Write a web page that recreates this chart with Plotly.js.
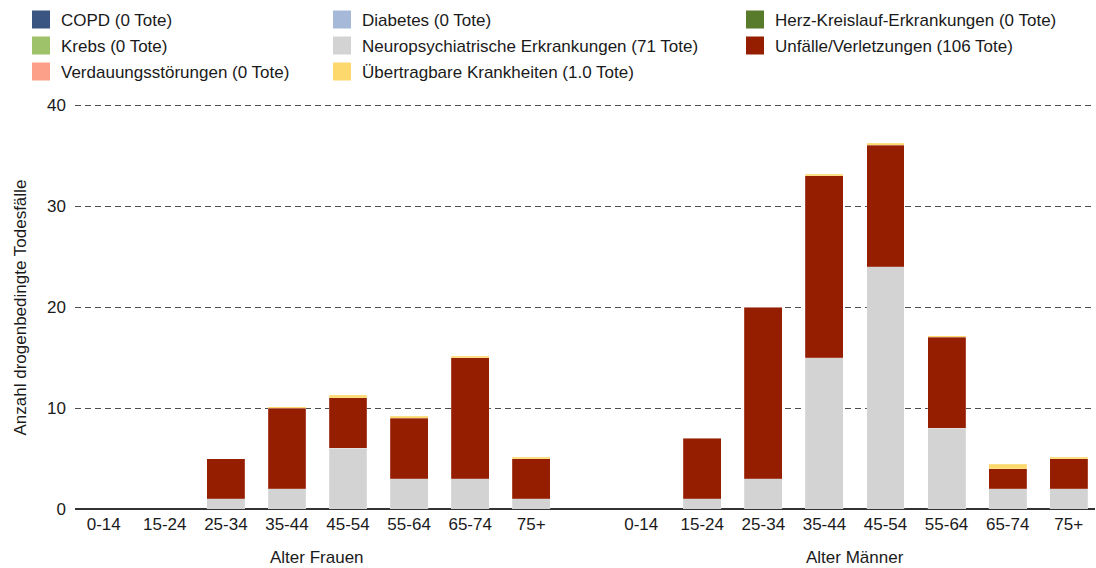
<!DOCTYPE html>
<html>
<head>
<meta charset="utf-8">
<script src="https://cdn.plot.ly/plotly-3.0.1.min.js"></script>
<style>html,body{margin:0;padding:0;background:#fff}#chart{width:1096px;height:568px}</style>
</head>
<body>
<div id="chart"></div>
<script>
// ---- data ----
const ageGroups = ["0-14","15-24","25-34","35-44","45-54","55-64","65-74","75+"];
const groupLabels = ["Alter Frauen","Alter Männer"];
const yTitle = "Anzahl drogenbedingte Todesfälle";
const yTicks = [0,10,20,30,40];

const copdF      = [0,0,0,0,0,0,0,0];
const copdM      = [0,0,0,0,0,0,0,0];
const diabetesF  = [0,0,0,0,0,0,0,0];
const diabetesM  = [0,0,0,0,0,0,0,0];
const herzF      = [0,0,0,0,0,0,0,0];
const herzM      = [0,0,0,0,0,0,0,0];
const krebsF     = [0,0,0,0,0,0,0,0];
const krebsM     = [0,0,0,0,0,0,0,0];
const verdauF    = [0,0,0,0,0,0,0,0];
const verdauM    = [0,0,0,0,0,0,0,0];
const neuroF     = [0,0,1,2,6,3,3,1];
const neuroM     = [0,1,3,15,24,8,2,2];
const unfallF    = [0,0,4,8,5,6,12,4];
const unfallM    = [0,6,17,18,12,9,2,3];
const uebertrF   = [0,0,0,0.12,0.25,0.2,0.13,0.13];
const uebertrM   = [0,0,0,0.15,0.2,0.15,0.45,0.13];

const seriesNames = [
  "COPD (0 Tote)",
  "Diabetes (0 Tote)",
  "Herz-Kreislauf-Erkrankungen (0 Tote)",
  "Krebs (0 Tote)",
  "Neuropsychiatrische Erkrankungen (71 Tote)",
  "Unfälle/Verletzungen (106 Tote)",
  "Verdauungsstörungen (0 Tote)",
  "Übertragbare Krankheiten (1.0 Tote)"
];
const seriesColors = ["#3a5582","#a6b9d8","#587a2b","#9ec26a","#d3d3d3","#961e00","#fda08a","#fdd86c"];

// ---- layout helpers ----
const menOffset = 8.8;
const xF = ageGroups.map((a,i)=>i);
const xM = ageGroups.map((a,i)=>i+menOffset);
const xAll = xF.concat(xM);
const tickText = ageGroups.concat(ageGroups);

const seriesValues = [
  copdF.concat(copdM),
  diabetesF.concat(diabetesM),
  herzF.concat(herzM),
  krebsF.concat(krebsM),
  neuroF.concat(neuroM),
  unfallF.concat(unfallM),
  verdauF.concat(verdauM),
  uebertrF.concat(uebertrM)
];

// stacking order bottom -> top
const stackOrder = [0,1,2,3,6,4,5,7];
const traces = [];
stackOrder.forEach(k=>{
  traces.push({
    type:"bar", x:xAll, y:seriesValues[k], name:seriesNames[k],
    width:0.62, showlegend:false, hoverinfo:"y+name",
    marker:{color:seriesColors[k], line:{color:"rgba(255,255,255,0.3)", width:0.6}}
  });
});

// legend columns
const legendCols = [[0,3,6],[1,4,7],[2,5]];
const legendKeys = ["legend","legend2","legend3"];
legendCols.forEach((col,ci)=>{
  col.forEach(k=>{
    traces.push({
      type:"scatter", mode:"markers", x:[null], y:[null], name:seriesNames[k],
      legend:legendKeys[ci], legendgroup:"g"+k, hoverinfo:"skip",
      marker:{symbol:"square", size:16, color:seriesColors[k], line:{color:seriesColors[k], width:2}}
    });
  });
});

const FS = 17;
const FONT = "Liberation Sans, Arial, sans-serif";
const TXT = "#1a1a1a";
const legFont = {family:FONT, size:FS, color:TXT};
function leg(xpx){
  return {x:xpx/1096, xref:"container", y:1-2/568, yref:"container", xanchor:"left", yanchor:"top",
    orientation:"v", traceorder:"grouped", tracegroupgap:0.9, font:legFont,
    bgcolor:"rgba(0,0,0,0)", itemsizing:"trace", itemclick:false};
}

const layout = {
  width:1096, height:568,
  margin:{l:75, r:1, t:102, b:59, autoexpand:false},
  paper_bgcolor:"#fff", plot_bgcolor:"#fff",
  font:{family:FONT, size:FS, color:TXT},
  barmode:"stack",
  showlegend:true,
  legend:leg(21), legend2:leg(322), legend3:leg(735),
  xaxis:{
    range:[-0.47, 16.23], tickvals:xAll, ticktext:tickText, showgrid:false, zeroline:false,
    ticks:"", ticklabelstandoff:3, tickfont:{size:FS, color:TXT}, fixedrange:true, showline:false, automargin:false
  },
  yaxis:{
    range:[0,40.3], tickvals:yTicks, showgrid:true, gridcolor:"#4d4d4d", gridwidth:1,
    griddash:"6px,4px", zeroline:true, zerolinecolor:"#333", zerolinewidth:1.5,
    ticks:"", ticklabelstandoff:8, tickfont:{size:FS, color:TXT},
    fixedrange:true, automargin:false
  },
  annotations:[
    {text:groupLabels[0], x:(xF[0]+xF[xF.length-1])/2, xref:"x", y:0, yref:"paper", yanchor:"middle", yshift:-48,
     showarrow:false, font:{size:FS, color:TXT}},
    {text:groupLabels[1], x:(xM[0]+xM[xM.length-1])/2, xref:"x", y:0, yref:"paper", yanchor:"middle", yshift:-48,
     showarrow:false, font:{size:FS, color:TXT}},
    {text:yTitle, textangle:-90, x:0, xref:"paper", xanchor:"center", xshift:-55, y:0.5, yref:"paper", yanchor:"middle",
     yshift:-2, showarrow:false, font:{size:FS, color:TXT}}
  ]
};

Plotly.newPlot("chart", traces, layout, {displayModeBar:false, staticPlot:true});
</script>
</body>
</html>
